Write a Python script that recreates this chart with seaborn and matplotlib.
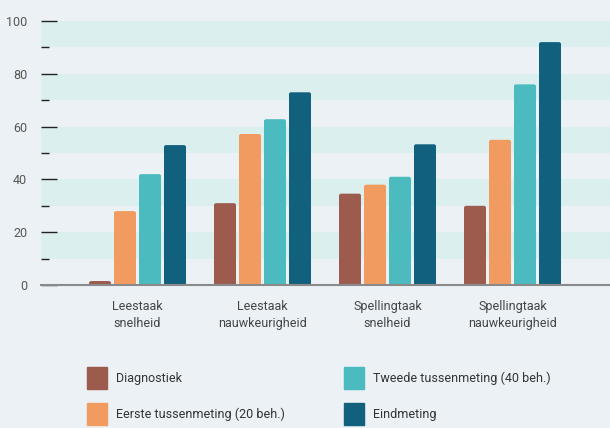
import numpy as np
import pandas as pd

import matplotlib
matplotlib.use("Agg")
import matplotlib.pyplot as plt
from matplotlib.patches import FancyBboxPatch
import seaborn as sns

# Data
taken = ["Leestaak\nsnelheid", "Leestaak\nnauwkeurigheid",
         "Spellingtaak\nsnelheid", "Spellingtaak\nnauwkeurigheid"]
metingen = ["Diagnostiek", "Eerste tussenmeting (20 beh.)",
            "Tweede tussenmeting (40 beh.)", "Eindmeting"]
diagnostiek = [1.5, 31, 34.6, 30]
eerste = [28, 57.2, 38, 55]
tweede = [42, 62.8, 41, 76]
eind = [53, 73, 53.3, 92]
kleuren = ["#9c5b4d", "#f29b61", "#4bbbbf", "#11607e"]

achtergrond = "#ebf1f4"
band = "#dcefef"

df = pd.DataFrame({
    "taak": taken * 4,
    "meting": np.repeat(metingen, 4),
    "score": diagnostiek + eerste + tweede + eind,
})

sns.set_style("white")
plt.rcParams["font.family"] = ["Roboto", "DejaVu Sans"]

fig = plt.figure(figsize=(6.1, 4.28), dpi=100, facecolor=achtergrond)
ax = fig.add_axes([41 / 610, 1 - 285 / 428, 1 - 41 / 610, (285 - 21) / 428])
ax.set_facecolor(achtergrond)

sns.barplot(
    data=df, x="taak", y="score", hue="meting",
    order=taken, hue_order=metingen, palette=kleuren,
    width=0.8, gap=0.12, saturation=1, linewidth=0,
    legend=False, ax=ax, zorder=2,
)

# afgeronde hoeken op de staven
for p in list(ax.patches):
    if p.get_height() <= 0:
        continue
    x, y = p.get_x(), p.get_y()
    w, h = p.get_width(), p.get_height()
    rond = FancyBboxPatch(
        (x, y), w, h,
        boxstyle="round,pad=0,rounding_size=0.018",
        mutation_aspect=40,
        facecolor=p.get_facecolor(), edgecolor="none", zorder=2,
    )
    p.remove()
    ax.add_patch(rond)

# lichte banden
for y0 in range(10, 100, 20):
    ax.axhspan(y0, y0 + 10, color=band, lw=0, zorder=0)

ax.set_xlim(-(137.5 - 41) / 125, (610 - 137.5) / 125)
ax.set_ylim(0, 100)
ax.set_xlabel("")
ax.set_ylabel("")

ax.set_yticks(range(0, 101, 20))
ax.set_yticks(range(10, 100, 20), minor=True)
ax.tick_params(axis="y", which="major", left=True, direction="in", length=11.5,
               width=1, color="#222222", labelsize=9, labelcolor="#555555", pad=10)
ax.tick_params(axis="y", which="minor", left=True, direction="in", length=5.8,
               width=1, color="#222222")
ax.tick_params(axis="x", length=0, labelsize=9, labelcolor="#444444", pad=11)
for lbl in ax.get_xticklabels():
    lbl.set_linespacing(1.4)

for s in ["left", "top", "right"]:
    ax.spines[s].set_visible(False)
ax.spines["bottom"].set_color("#8a8a8a")
ax.spines["bottom"].set_linewidth(1.5)
ax.spines["bottom"].set_zorder(3)

handles = [plt.Rectangle((0, 0), 1, 1, color=c) for c in kleuren]
fig.legend(
    handles, metingen, ncol=2, frameon=False,
    loc="upper left", bbox_to_anchor=(87 / 610, 1 - 367 / 428),
    borderpad=0, borderaxespad=0,
    handlelength=1.6, handleheight=2.3, handletextpad=0.75,
    labelspacing=1.15, columnspacing=4.7,
    prop={"size": 9}, labelcolor="#333333",
)

fig.savefig("out.png", dpi=100, facecolor=achtergrond)
